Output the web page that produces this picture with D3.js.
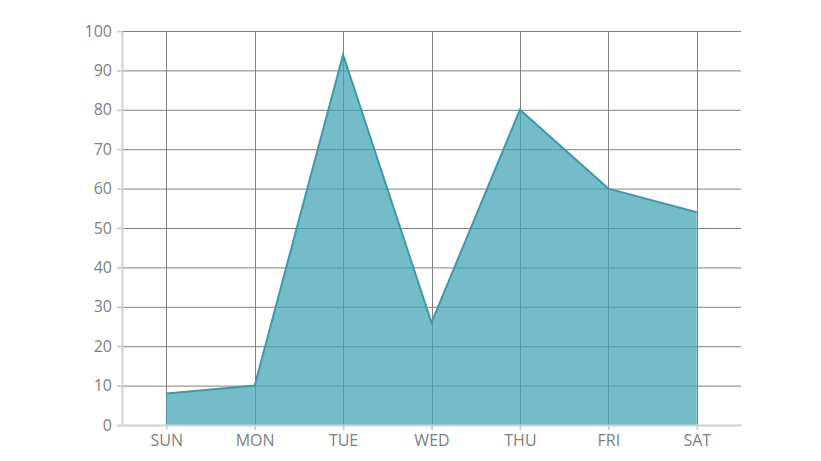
<!DOCTYPE html>
<html><head><meta charset="utf-8">
<script src="https://cdn.jsdelivr.net/npm/d3@7"></script>
<style>body{margin:0;background:#fff}svg{display:block}</style>
</head><body><svg id="c" width="821" height="461"></svg>
<script>
const categories = ["SUN","MON","TUE","WED","THU","FRI","SAT"];
const values = [8, 10, 94, 26, 80, 60, 54];
const yTicks = [0,10,20,30,40,50,60,70,80,90,100];

const svg = d3.select("#c");
const m = {l:122, r:741, t:31, b:425};
const x = d3.scalePoint().domain(categories).range([m.l, m.r]).padding(0.5);
const y = d3.scaleLinear().domain([0,100]).range([m.b, m.t]);
const font = "'Open Sans', 'Noto Sans', sans-serif";

// gridlines
const g = svg.append("g");
g.selectAll("line.h").data(yTicks.filter(d=>d>0)).join("line")
  .attr("x1", m.l).attr("x2", m.r).attr("y1", d=>y(d)+0.5).attr("y2", d=>y(d)+0.5)
  .attr("stroke", "#808080").attr("stroke-width", 1);
g.selectAll("line.v").data(categories).join("line")
  .attr("x1", d=>Math.round(x(d))+0.5).attr("x2", d=>Math.round(x(d))+0.5)
  .attr("y1", m.t).attr("y2", m.b)
  .attr("stroke", "#808080").attr("stroke-width", 1);

const data = categories.map((c,i)=>({c, v:values[i]}));
svg.append("path").datum(data)
  .attr("d", d3.area().x(d=>x(d.c)).y0(y(0)).y1(d=>y(d.v)))
  .attr("fill", "#3fa2b3").attr("fill-opacity", 0.72);
svg.append("path").datum(data)
  .attr("d", d3.line().x(d=>x(d.c)).y(d=>y(d.v)))
  .attr("fill", "none").attr("stroke", "#3a9cab").attr("stroke-width", 2);

// axes
const ya = svg.append("g").attr("transform", `translate(${m.l},0)`)
  .call(d3.axisLeft(y).tickValues(yTicks).tickSize(5).tickSizeOuter(0).tickPadding(5));
const xa = svg.append("g").attr("transform", `translate(0,${m.b})`)
  .call(d3.axisBottom(x).tickSize(5).tickSizeOuter(0).tickPadding(5));
[ya, xa].forEach(a=>{
  a.select(".domain").attr("stroke", "#d0d0d0").attr("stroke-width", 2);
  a.selectAll(".tick line").attr("stroke", "#d0d0d0").attr("stroke-width", 2);
  a.selectAll("text").attr("fill", "#7f7f7f").style("font-family", font).style("font-size", "16px");
});
</script></body></html>
